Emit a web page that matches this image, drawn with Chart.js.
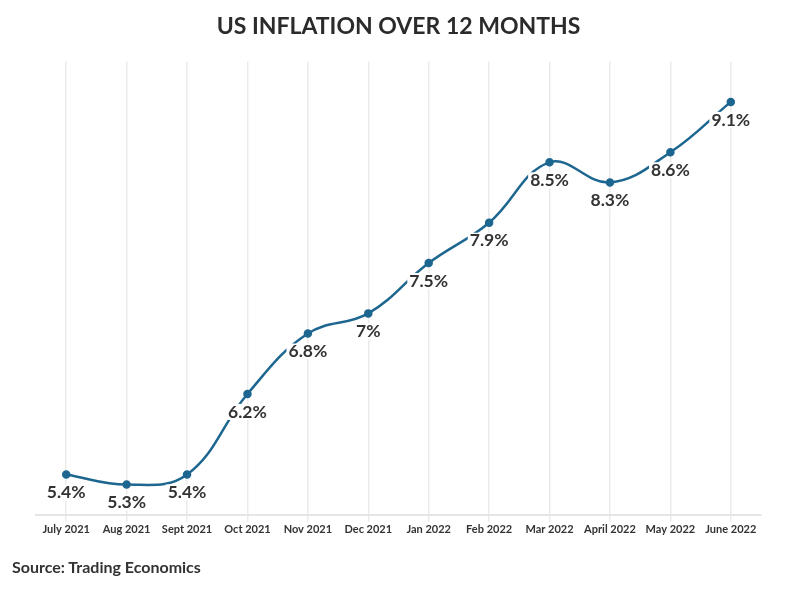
<!DOCTYPE html>
<html>
<head>
<meta charset="utf-8">
<script src="https://cdn.jsdelivr.net/npm/chart.js@4.4.0/dist/chart.umd.min.js"></script>
<style>
    html, body { margin: 0; padding: 0; background: #fff; }
    #wrap { position: relative; width: 796px; height: 590px; }
    #source {
        position: absolute; left: 12px; top: 557px;
        font: bold 16px Lato, sans-serif; color: #333;
    }
</style>
</head>
<body>
<div id="wrap">
    <canvas id="inflationChart" width="796" height="590"></canvas>
    <div id="source">Source: Trading Economics</div>
</div>
<script>
// Data
const months = ['July 2021', 'Aug 2021', 'Sept 2021', 'Oct 2021', 'Nov 2021', 'Dec 2021',
    'Jan 2022', 'Feb 2022', 'Mar 2022', 'April 2022', 'May 2022', 'June 2022'];
const inflation = [5.4, 5.3, 5.4, 6.2, 6.8, 7.0, 7.5, 7.9, 8.5, 8.3, 8.6, 9.1];
const valueLabels = ['5.4%', '5.3%', '5.4%', '6.2%', '6.8%', '7%', '7.5%', '7.9%', '8.5%', '8.3%', '8.6%', '9.1%'];

const lineColor = '#1d6690';

// Value labels under each point, with a white box behind
const pointLabels = {
    id: 'pointLabels',
    afterDatasetsDraw(chart) {
        const ctx = chart.ctx;
        const meta = chart.getDatasetMeta(0);
        ctx.save();
        ctx.font = 'bold 17.5px Lato, sans-serif';
        ctx.textAlign = 'center';
        ctx.textBaseline = 'middle';
        meta.data.forEach((pt, i) => {
            const text = valueLabels[i];
            const w = ctx.measureText(text).width;
            const y = pt.y + 18;
            ctx.fillStyle = '#fff';
            ctx.fillRect(pt.x - w / 2 - 2, y - 8, w + 4, 16);
            ctx.fillStyle = '#333';
            ctx.fillText(text, pt.x, y);
        });
        ctx.restore();
    }
};

const chart = new Chart(document.getElementById('inflationChart'), {
    type: 'line',
    data: {
        labels: months,
        datasets: [{
            data: inflation,
            borderColor: lineColor,
            backgroundColor: lineColor,
            borderWidth: 2.5,
            pointRadius: 3,
            pointHoverRadius: 3,
            tension: 0.4,
            fill: false
        }]
    },
    options: {
        responsive: false,
        animation: false,
        layout: {
            padding: { left: 36, right: 35, top: 0, bottom: 53 }
        },
        plugins: {
            legend: { display: false },
            tooltip: { enabled: false },
            title: {
                display: true,
                text: 'US INFLATION OVER 12 MONTHS',
                color: '#2b2b2b',
                font: { family: 'Lato', size: 23, weight: 'bold' },
                padding: { top: 13, bottom: 21 }
            }
        },
        scales: {
            x: {
                offset: true,
                grid: {
                    color: '#ebebeb',
                    lineWidth: 1.5,
                    tickLength: 7,
                    offset: false
                },
                border: { display: true, color: '#e6e6e6', width: 2 },
                ticks: {
                    color: '#333',
                    font: { family: 'Lato', size: 11, weight: 'bold' },
                    maxRotation: 0,
                    autoSkip: false,
                    padding: 1
                }
            },
            y: {
                display: false,
                min: 5,
                max: 9.5
            }
        }
    },
    plugins: [pointLabels]
});
</script>
</body>
</html>
